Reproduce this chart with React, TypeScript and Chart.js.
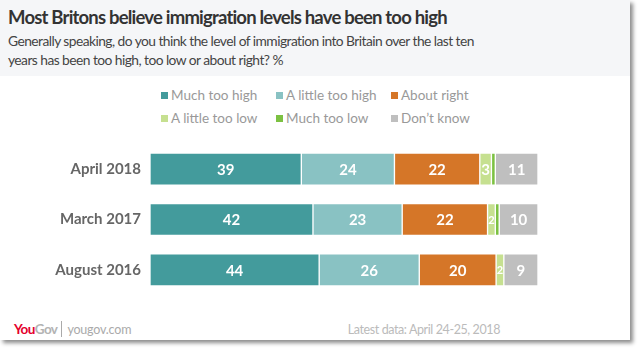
import React, { useEffect, useRef } from "react";
import { Chart, registerables } from "chart.js";

Chart.register(...registerables);

const categories = ["April 2018", "March 2017", "August 2016"];
const seriesNames = ["Much too high", "A little too high", "About right", "A little too low", "Much too low", "Don't know"];
const seriesColors = ["#439b9c", "#89c2c3", "#d57628", "#c6e090", "#7cc142", "#bfbfbf"];
const muchTooHigh = [39, 42, 43.6];
const littleTooHigh = [24, 23, 25.8];
const aboutRight = [22, 22, 19.8];
const littleTooLow = [3, 2, 2];
const muchTooLow = [1, 1, 0];
const dontKnow = [11, 10, 8.8];
const seriesValues = [muchTooHigh, littleTooHigh, aboutRight, littleTooLow, muchTooLow, dontKnow];

const FONT = "Lato, 'Open Sans', sans-serif";

const labelPlugin = {
  id: "segLabels",
  afterDatasetsDraw(chart: any) {
    const ctx = chart.ctx;
    ctx.save();
    ctx.fillStyle = "#ffffff";
    ctx.textAlign = "center";
    ctx.textBaseline = "middle";
    chart.data.datasets.forEach((ds: any, di: number) => {
      const meta = chart.getDatasetMeta(di);
      meta.data.forEach((el: any, i: number) => {
        const v = ds.data[i];
        const r = Math.round(v);
        if (r < 2) return;
        const w = Math.abs(el.x - el.base);
        const size = w < 10 ? 11 : 15;
        ctx.font = `bold ${size}px ${FONT}`;
        ctx.fillText(String(r), (el.x + el.base) / 2, el.y + 1);
      });
    });
    ctx.restore();
  },
};

function BarChart() {
  const ref = useRef<HTMLCanvasElement | null>(null);
  useEffect(() => {
    if (!ref.current) return;
    const chart = new Chart(ref.current, {
      type: "bar",
      data: {
        labels: categories,
        datasets: seriesNames.map((n, i) => ({
          label: n,
          data: seriesValues[i],
          backgroundColor: seriesColors[i],
          borderColor: "rgba(255,255,255,0.35)",
          borderWidth: 1,
          borderSkipped: false,
          barThickness: 32,
        })),
      },
      options: {
        indexAxis: "y",
        animation: false,
        responsive: false,
        maintainAspectRatio: false,
        layout: { padding: { left: 0, right: 92, top: 0, bottom: 0 } },
        plugins: { legend: { display: false }, tooltip: { enabled: false }, title: { display: false } },
        scales: {
          x: { stacked: true, min: 0, max: 100, display: false },
          y: {
            stacked: true,
            grid: { display: false, drawTicks: false },
            border: { display: false },
            ticks: {
              color: "#666666",
              padding: 9,
              font: { family: FONT, size: 15, weight: "bold" },
            },
            afterFit(scale: any) {
              scale.width = 150;
            },
          },
        },
      },
      plugins: [labelPlugin],
    } as any);
    return () => chart.destroy();
  }, []);
  return <canvas ref={ref} width={630} height={187} style={{ position: "absolute", left: 0, top: 126, width: 630, height: 187 }} />;
}

export default function App() {
  const legendCols = [161, 276, 391];
  return (
    <div style={{ position: "absolute", left: 0, top: 0, width: 640, height: 351, background: "#ffffff", fontFamily: FONT }}>
      <div style={{ position: "absolute", left: 0, top: 0, width: 630, height: 340, background: "#ffffff", boxShadow: "3px 3px 4px rgba(0,0,0,0.45)" }}>
        <div style={{ position: "absolute", left: 0, top: 0, width: 630, height: 76, background: "#f5f6f8" }} />
        <div style={{ position: "absolute", left: 8, top: 6, fontSize: 18.5, letterSpacing: -0.8, fontWeight: 700, color: "#333333", whiteSpace: "nowrap" }}>
          Most Britons believe immigration levels have been too high
        </div>
        <div style={{ position: "absolute", left: 8, top: 31, width: 490, fontSize: 13.8, letterSpacing: -0.55, lineHeight: "19px", color: "#444444" }}>
          Generally speaking, do you think the level of immigration into Britain over the last ten years has been too high, too low or about right? %
        </div>
        {seriesNames.map((n, i) => (
          <div key={n} style={{ position: "absolute", left: legendCols[i % 3], top: i < 3 ? 86 : 109, height: 18, display: "flex", alignItems: "center", whiteSpace: "nowrap", fontSize: 13.5, color: "#999999" }}>
            <span style={{ display: "inline-block", width: 7, height: 7, background: seriesColors[i], marginRight: 3 }} />
            {n === "Don't know" ? "Don\u2019t know" : n}
          </div>
        ))}
        <BarChart />
        <div style={{ position: "absolute", left: 14, top: 320, height: 18, display: "flex", alignItems: "center", whiteSpace: "nowrap" }}>
          <span style={{ fontWeight: 700, fontSize: 13.5, color: "#e4002b", letterSpacing: -0.6 }}>You</span>
          <span style={{ fontWeight: 700, fontSize: 13.5, color: "#b3b3b3", letterSpacing: -0.6 }}>Gov</span>
          <span style={{ display: "inline-block", width: 1, height: 16, background: "#aaaaaa", margin: "0 5px 0 4px" }} />
          <span style={{ fontSize: 12.5, color: "#aaaaaa", letterSpacing: -0.2 }}>yougov.com</span>
        </div>
        <div style={{ position: "absolute", right: 130, top: 320, height: 18, display: "flex", alignItems: "center", whiteSpace: "nowrap", fontSize: 12.5, letterSpacing: -0.4, color: "#bbbbbb" }}>
          Latest data: April 24-25, 2018
        </div>
      </div>
    </div>
  );
}
